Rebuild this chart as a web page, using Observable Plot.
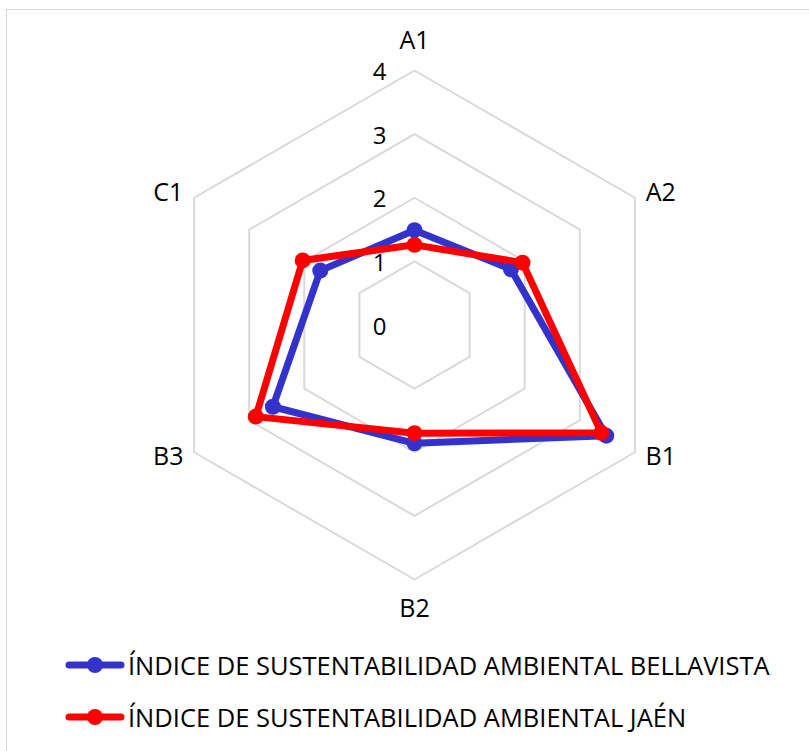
<!DOCTYPE html>
<html>
<head>
<meta charset="utf-8">
<script src="https://cdn.jsdelivr.net/npm/d3@7"></script>
<script src="https://cdn.jsdelivr.net/npm/@observablehq/plot@0.6"></script>
<style>
  html, body { margin: 0; padding: 0; background: #fff; overflow: hidden; width: 809px; height: 751px; }
  #frame { position: absolute; left: 6px; top: 9px; width: 900px; height: 900px; border: 1.5px solid #d9d9d9; box-sizing: border-box; }
  #chart { position: absolute; left: 0; top: 0; }
  #legend { position: absolute; left: 0; top: 0; font-family: "Open Sans", sans-serif; color: #000; }
  .row { position: absolute; left: 64px; display: flex; align-items: center; white-space: nowrap; height: 30px; }
  .row svg { margin-right: 2px; flex: none; }
</style>
</head>
<body>
<div id="frame"></div>
<div id="chart"></div>
<div id="legend"></div>
<script>
// ---- data ----
const axes = ["A1", "A2", "B1", "B2", "B3", "C1"];
const bellavista = [1.49, 1.75, 3.48, 1.86, 2.57, 1.71];
const jaen = [1.26, 1.96, 3.39, 1.70, 2.88, 2.03];
const tickValues = [0, 1, 2, 3, 4];
const seriesNames = [
  "ÍNDICE DE SUSTENTABILIDAD AMBIENTAL BELLAVISTA",
  "ÍNDICE DE SUSTENTABILIDAD AMBIENTAL JAÉN"
];
const seriesColors = ["#3333cc", "#ff0000"];

// ---- geometry ----
const W = 809, H = 640;
const cx = 414, cy = 324.5, R = 254.5;
const maxV = 4;
const k = R / maxV;
const ang = i => i * 2 * Math.PI / axes.length;
const px = (r, i) => r * Math.sin(ang(i));
const py = (r, i) => r * Math.cos(ang(i));

const rings = tickValues.filter(v => v > 0).flatMap(v =>
  axes.map((a, i) => ({ring: v, x: px(v, i), y: py(v, i)})));

const series = [bellavista, jaen].map((vals, s) =>
  vals.map((v, i) => ({series: s, axis: axes[i], x: px(v, i), y: py(v, i)})));

const labels = axes.map((a, i) => {
  const c = Math.cos(ang(i));
  return {label: a, x: px(4.47, i), y: c * (Math.abs(c) > 0.99 ? 4.47 : 4.14)};
});

const ticks = tickValues.map(v => ({label: String(v), x: 0, y: v}));

const marks = [
  Plot.line(rings, {x: "x", y: "y", z: "ring", curve: "linear-closed", stroke: "#d9d9d9", strokeWidth: 2}),
  Plot.text(ticks, {x: "x", y: "y", text: "label", textAnchor: "end", dx: -28, dy: 2, fontSize: 24, fill: "#000"}),
  Plot.text(labels, {x: "x", y: "y", text: "label", fontSize: 25, fill: "#000"})
];
series.forEach((d, s) => {
  marks.push(Plot.line(d, {x: "x", y: "y", curve: "linear-closed", stroke: seriesColors[s], strokeWidth: 7, strokeLinejoin: "round"}));
  marks.push(Plot.dot(d, {x: "x", y: "y", r: 8, fill: seriesColors[s], stroke: "none"}));
});

const plot = Plot.plot({
  width: W, height: H, margin: 0,
  x: {domain: [-cx / k, (W - cx) / k], axis: null},
  y: {domain: [-(H - cy) / k, cy / k], axis: null},
  style: {fontFamily: "'Open Sans', sans-serif", background: "transparent", overflow: "visible"},
  marks
});
document.getElementById("chart").appendChild(plot);

// ---- legend ----
// fit legend font so the first entry spans ~642px like the reference
const ctx = document.createElement("canvas").getContext("2d");
ctx.font = "20px 'Open Sans'";
const measured = ctx.measureText(seriesNames[0]).width || 540;
const legendFont = Math.max(18, Math.min(28, 20 * 642 / measured));
const legend = document.getElementById("legend");
legend.style.fontSize = legendFont + "px";
const rowY = [665, 717];
seriesNames.forEach((name, s) => {
  const row = document.createElement("div");
  row.className = "row";
  row.style.top = (rowY[s] - 15) + "px";
  row.innerHTML = `<svg width="62" height="30"><line x1="5" y1="15" x2="57" y2="15" stroke="${seriesColors[s]}" stroke-width="7" stroke-linecap="round"/><circle cx="31" cy="15" r="8" fill="${seriesColors[s]}"/></svg><span>${name}</span>`;
  legend.appendChild(row);
});
</script>
</body>
</html>
